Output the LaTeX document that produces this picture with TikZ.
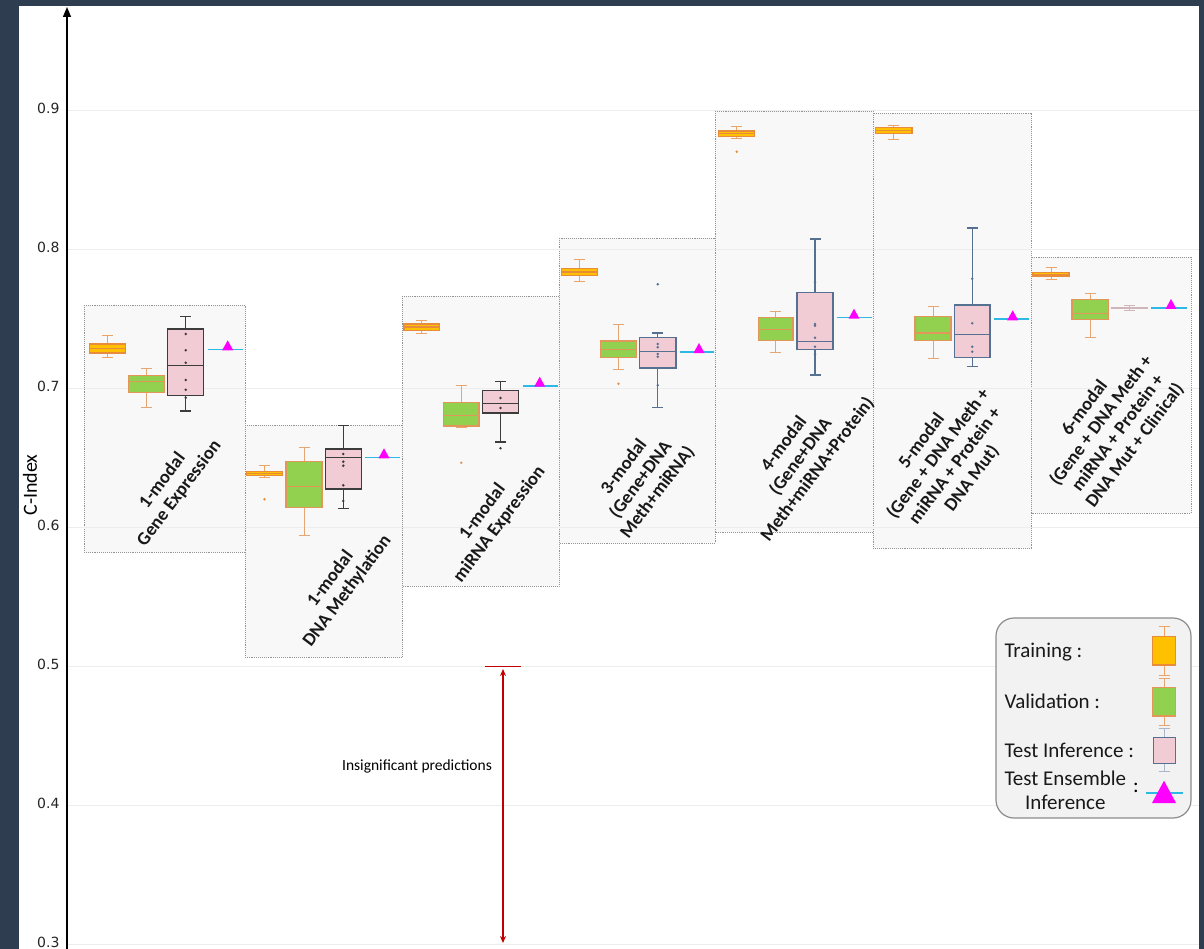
\documentclass[tikz,border=0pt]{standalone}
\usepackage{fontspec}
\setmainfont{Carlito}
\newfontfamily\tickfont{DejaVu Sans}
\usepackage{xcolor}
\usepackage{tikz}
\usetikzlibrary{arrows.meta}
\definecolor{frame}{RGB}{46,62,80}
\definecolor{grpfill}{RGB}{248,248,248}
\definecolor{trainfill}{RGB}{255,192,0}
\definecolor{trainline}{RGB}{232,140,60}
\definecolor{valfill}{RGB}{146,208,80}
\definecolor{valline}{RGB}{226,150,90}
\definecolor{testfill}{RGB}{242,204,212}
\definecolor{testdark}{RGB}{60,60,60}
\definecolor{testblue}{RGB}{85,112,145}
\definecolor{enscyan}{RGB}{46,184,230}
\definecolor{ensmag}{RGB}{255,0,255}
\definecolor{sigred}{RGB}{192,0,0}
% one box plot: left, right, whisker top, box top, median, box bottom, whisker bottom, kind
\newcommand{\cibox}[8]{%
  \pgfmathsetmacro{\bMid}{(#1+#2)/2}%
  \draw[#8whisk] (\bMid,#3) -- (\bMid,#4) (\bMid,#6) -- (\bMid,#7)
    ({\bMid-5.5},#3) -- ({\bMid+5.5},#3) ({\bMid-5.5},#7) -- ({\bMid+5.5},#7);%
  \filldraw[#8box] (#1,#4) rectangle (#2,#6);%
  \draw[#8box] (#1,#5) -- (#2,#5);%
}
% scattered points of one box: x, list of y, colour
\newcommand{\cidots}[3]{%
  \foreach \dY in {#2} {\fill[#3] (#1,\dY) circle (1.4);}%
}
% ensemble value: left, right, y, triangle x
\newcommand{\ciens}[4]{%
  \draw[ensline] (#1,#3) -- (#2,#3);%
  \fill[ensmag] ({#4-5.5},{#3+1}) -- ({#4+5.5},{#3+1}) -- (#4,{#3-9}) -- cycle;%
}

\begin{document}
\begin{tikzpicture}[x=1pt,y=-1pt,
  grpbox/.style={draw=gray!85,densely dotted,fill=grpfill,line width=0.9pt},
  gridline/.style={draw=black!7,line width=0.8pt},
  trainbox/.style={draw=trainline,fill=trainfill,line width=1.1pt},
  trainwhisk/.style={draw=trainline!80,line width=0.9pt},
  valbox/.style={draw=valline,fill=valfill,line width=1.1pt},
  valwhisk/.style={draw=valline!85,line width=0.9pt},
  testkbox/.style={draw=testdark,fill=testfill,line width=1.4pt},
  testkwhisk/.style={draw=testdark,line width=1.2pt},
  testbbox/.style={draw=testblue,fill=testfill,line width=1.4pt},
  testbwhisk/.style={draw=testblue,line width=1.2pt},
  testlbox/.style={draw=testfill!70!gray,fill=testfill,line width=1.2pt},
  testlwhisk/.style={draw=testfill!70!gray,line width=1pt},
  legtbox/.style={draw=testblue,fill=testfill,line width=1pt},
  legtwhisk/.style={draw=testblue!50,line width=1pt},
  ensline/.style={draw=enscyan,line width=1.6pt},
  grplabel/.style={font=\fontsize{18.5}{21}\selectfont\bfseries,align=center,rotate=53,text=black!90,inner sep=0pt},
  ticklabel/.style={font=\tickfont\fontsize{14}{16}\selectfont,anchor=east,text=black!85},
  legtext/.style={font=\fontsize{21}{23}\selectfont,anchor=west,text=black!90}]
  \useasboundingbox (0,0) rectangle (1204,949);
  \fill[frame] (0,0) rectangle (1204,949);
  \fill[white] (19,6) rectangle (1199,949);

  % modality groups
  \filldraw[grpbox] (84,305) rectangle (245,552);
  \filldraw[grpbox] (245,425) rectangle (402,657);
  \filldraw[grpbox] (402,296) rectangle (559,586);
  \filldraw[grpbox] (559,238) rectangle (715,543);
  \filldraw[grpbox] (715,111) rectangle (873,532);
  \filldraw[grpbox] (873,113) rectangle (1031,548);
  \filldraw[grpbox] (1031,257) rectangle (1191,513);

  \foreach \yy/\t [count=\i] in {110/0.9,249/0.8,388/0.7,527/0.6,666/0.5,805/0.4,944/0.3} {
    \draw[gridline] (67,\yy) -- (1199,\yy);
    \node[ticklabel] (tick\i) at (63,\yy-2) {\t};
  }
  \coordinate (axbot) at (67,949);
  \coordinate (axtop) at (67,7);
  \draw[line width=1.4pt,-{Triangle[width=8pt,length=10pt]}] (axbot) -- (axtop);
  \node[rotate=90,font=\fontsize{20}{22}\selectfont] (ylab) at (30,485) {C-Index};

  % 1-modal gene expression
  \cibox{89.3}{125.7}{335.7}{344}{348.3}{353}{357.3}{train}
  \cibox{128.3}{164.7}{368}{375.7}{381.7}{392.3}{407.7}{val}
  \cibox{167.7}{203.7}{316.7}{329}{365.7}{395.7}{411}{testk}
  \cidots{185.7}{334,350.3,362.7,380,389.7,397.7}{testdark}
  \ciens{207.7}{243}{349.3}{227.7}
  % 1-modal DNA methylation
  \cibox{246.7}{282.3}{465.3}{471.3}{473.3}{475.7}{477.7}{train}
  \cidots{264.5}{499.3}{trainline}
  \cibox{286}{322}{447.3}{461.7}{486.3}{507.3}{535.3}{val}
  \cibox{325.3}{361.3}{425.3}{449}{457.3}{489}{508.3}{testk}
  \cidots{343.3}{454,461.7,465.7,485.3,501}{testdark}
  \ciens{365}{400}{457.3}{384}
  % 1-modal miRNA expression
  \cibox{404}{439.7}{320}{324}{327}{330.7}{333.3}{train}
  \cibox{443.3}{479}{385.7}{402.3}{415.7}{426}{427.7}{val}
  \cidots{461.2}{462.7}{valline}
  \cibox{482.3}{518.7}{381.7}{390.3}{403.7}{413}{442}{testk}
  \cidots{500.5}{398,408,448.3}{testdark}
  \ciens{522.7}{557.7}{385.7}{539.7}
  % 3-modal
  \cibox{561.3}{597.3}{259.3}{268.3}{272}{275.7}{281.7}{train}
  \cibox{600.7}{636.3}{324.7}{341}{349.7}{357.7}{369.7}{val}
  \cidots{618.5}{383.7}{valline}
  \cibox{639.3}{676}{333}{337.7}{351.7}{368}{407.3}{testb}
  \cidots{657.7}{284.3,344,347.3,354,356.7,385.3}{testblue}
  \ciens{679.7}{714.3}{352}{699}
  % 4-modal
  \cibox{718.7}{754.7}{126.7}{131}{133.7}{136.7}{138.3}{train}
  \cidots{736.7}{151.7}{trainline}
  \cibox{758.3}{793}{311}{317.7}{329.7}{340.7}{352}{val}
  \cibox{797}{833}{239}{292.7}{341.3}{349.7}{375}{testb}
  \cidots{815}{282.3,324,325.7,337.7,346.7,354.3}{testblue}
  \ciens{836.7}{871.7}{317.7}{854}
  % 5-modal
  \cibox{875.7}{912}{125.3}{127.3}{130.3}{133.7}{139}{train}
  \cibox{915}{951}{306.7}{316.3}{333}{340.7}{358.3}{val}
  \cibox{954.3}{990}{228}{305}{334.7}{357.7}{366.7}{testb}
  \cidots{972.2}{278.7,323.3,346.7,351.7}{testblue}
  \ciens{993.7}{1029}{319.3}{1012.7}
  % 6-modal
  \cibox{1033}{1069}{267.3}{272.7}{274.3}{276}{279.3}{train}
  \cibox{1072}{1108.7}{293}{299.3}{313.3}{319.7}{337.7}{val}
  \cibox{1111.7}{1147.7}{305.5}{307.2}{308}{308.8}{310.5}{testl}
  \ciens{1151.3}{1186.7}{308}{1171}

  \node[grplabel] (lab1) at (171,487) {1-modal\\Gene Expression};
  \node[grplabel] (lab2) at (339,585) {1-modal\\DNA Methylation};
  \node[grplabel] (lab3) at (491,518) {1-modal\\miRNA Expression};
  \node[grplabel] (lab4) at (641,480) {3-modal\\(Gene+DNA\\Meth+miRNA)};
  \node[grplabel] (lab5) at (801,457) {4-modal\\(Gene+DNA\\Meth+miRNA+Protein)};
  \node[grplabel] (lab6) at (947,460) {5-modal\\(Gene + DNA Meth +\\miRNA + Protein +\\DNA Mut)};
  \node[grplabel] (lab7) at (1110,427) {6-modal\\(Gene + DNA Meth +\\miRNA + Protein +\\DNA Mut + Clinical)};

  % insignificant range
  \draw[sigred,line width=1.5pt] (485,666.5) -- (521,666.5);
  \coordinate (sigtop) at (503,669);
  \coordinate (sigbot) at (503,943);
  \draw[sigred,line width=1.2pt,{Stealth[length=7pt,width=6pt]}-{Stealth[length=7pt,width=6pt]}] (sigtop) -- (sigbot);
  \node[font=\fontsize{15.5}{17}\selectfont] (sigtext) at (417,766) {Insignificant predictions};

  % legend
  \filldraw[draw=gray!90,fill=black!5,line width=1.2pt,rounded corners=18pt] (996,618) rectangle (1191,818);
  \node[legtext] (legtrain) at (1001,652) {Training :};
  \node[legtext] (legval) at (1001,701) {Validation :};
  \node[legtext] (legtest) at (1001,750) {Test Inference :};
  \node[legtext,align=center,font=\fontsize{21}{24}\selectfont] (legens) at (1001,790) {Test Ensemble\\Inference};
  \node[font=\fontsize{21}{23}\selectfont] (legcolon) at (1136,788) {:};
  \cibox{1152.7}{1175.7}{626.7}{636.7}{636.7}{665}{675}{train}
  \cibox{1152.7}{1175.7}{678.3}{687.7}{687.7}{716}{725}{val}
  \cibox{1153.3}{1175}{728.3}{737.3}{737.3}{763.3}{771.7}{legt}
  \draw[ensline] (1146,792.7) -- (1182.7,792.7);
  \fill[ensmag] (1152,803) -- (1176,803) -- (1164,780.7) -- cycle;
\end{tikzpicture}
\end{document}
